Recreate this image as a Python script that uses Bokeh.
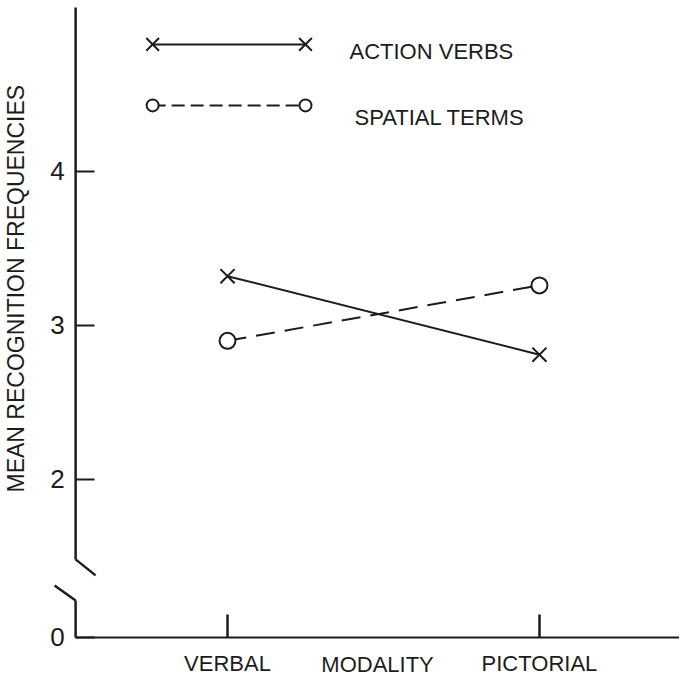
from bokeh.plotting import figure
from bokeh.models import Range1d, FixedTicker, Arrow, Title
from bokeh.core.properties import value
from bokeh.embed import file_html
from bokeh.resources import INLINE

# ---- data ----
modalities = ["VERBAL", "PICTORIAL"]
modality_pos = [1, 2]
action_verbs = [3.32, 2.81]
spatial_terms = [2.90, 3.26]
y_ticks = [2, 3, 4]
y_tick_labels = ["2", "3", "4"]
series_names = ["ACTION VERBS", "SPATIAL TERMS"]
x_title = "MODALITY"
y_title = "MEAN RECOGNITION FREQUENCIES"

# ---- layout / style constants ----
Y_BOTTOM = 0.974          # bottom of the broken axis, labelled "0"
X_AXIS = 0.513            # where the y axis stands
X_END = 2.449
INK = "#1c1c1c"
FONT = "Liberation Sans"

p = figure(width=679, height=679, output_backend="svg", toolbar_location=None,
           x_range=Range1d(0.362, X_END), y_range=Range1d(0.701, 5.110),
           min_border_left=28, min_border_right=0, min_border_top=0,
           min_border_bottom=0)
p.grid.visible = False
p.outline_line_color = None
p.background_fill_color = "white"
p.border_fill_color = "white"

# x axis, drawn at the foot of the broken y axis
xa = p.xaxis[0]
xa.fixed_location = Y_BOTTOM
xa.bounds = (X_AXIS, X_END)
xa.ticker = FixedTicker(ticks=modality_pos)
xa.major_label_overrides = {pos: lab for pos, lab in zip(modality_pos, modalities)}
xa.major_tick_in = 23
xa.major_tick_out = 0
xa.minor_tick_line_color = None
xa.axis_line_width = 2
xa.axis_line_color = INK
xa.major_tick_line_width = 2.5
xa.major_tick_line_color = INK
xa.major_label_text_font = FONT
xa.major_label_text_font_size = "22px"
xa.major_label_text_color = INK
xa.major_label_standoff = 14

# y axis (its line is drawn separately because of the break)
ya = p.yaxis[0]
ya.fixed_location = X_AXIS
ya.ticker = FixedTicker(ticks=[Y_BOTTOM] + y_ticks)
overrides = {Y_BOTTOM: "0"}
overrides.update({t: lab for t, lab in zip(y_ticks, y_tick_labels)})
ya.major_label_overrides = overrides
ya.axis_line_color = None
ya.major_tick_in = 19
ya.major_tick_out = 0
ya.minor_tick_line_color = None
ya.major_tick_line_width = 2
ya.major_tick_line_color = INK
ya.major_label_text_font = FONT
ya.major_label_text_font_size = "26px"
ya.major_label_text_color = INK
ya.major_label_standoff = 11

# y axis title
p.add_layout(Title(text=y_title, align="left", offset=187, standoff=0,
                   text_font=FONT, text_font_size="23px", text_font_style="normal",
                   text_color=INK), "left")

# x axis title
p.text(x=[1.481], y=[0.80], text=[x_title], text_font=value(FONT),
       text_font_size="22px", text_color=INK, text_align="center",
       text_baseline="middle")

# broken y axis line
axis_pieces = [
    (X_AXIS, 5.065, X_AXIS, 1.481),
    (X_AXIS, 1.481, 0.577, 1.377),
    (0.4455, 1.312, X_AXIS, 1.214),
    (X_AXIS, 1.214, X_AXIS, Y_BOTTOM),
]
for xs, ys, xe, ye in axis_pieces:
    p.add_layout(Arrow(x_start=xs, y_start=ys, x_end=xe, y_end=ye, end=None,
                       line_color=INK, line_width=2.5))

# data series
p.line(modality_pos, action_verbs, line_width=2, line_color=INK)
p.line(modality_pos, spatial_terms, line_width=2, line_color=INK, line_dash="19 10")
p.scatter(modality_pos, action_verbs, marker="x", size=20, line_width=2, line_color=INK)
p.scatter(modality_pos, spatial_terms, marker="circle", size=16, line_width=2,
          line_color=INK, fill_color="white")

# hand-drawn legend
LEG_X = [0.760, 1.25]
LEG_Y = [4.825, 4.429]
p.line(LEG_X, [LEG_Y[0]] * 2, line_width=2, line_color=INK)
p.scatter(LEG_X, [LEG_Y[0]] * 2, marker="x", size=18, line_width=2, line_color=INK)
p.line(LEG_X, [LEG_Y[1]] * 2, line_width=2, line_color=INK, line_dash="13 6")
p.scatter(LEG_X, [LEG_Y[1]] * 2, marker="circle", size=12, line_width=2,
          line_color=INK, fill_color="white")
p.text(x=[1.391, 1.407], y=[4.779, 4.351], text=series_names,
       text_font=value(FONT), text_font_size="22px", text_color=INK,
       text_align="left", text_baseline="middle")

open("out.html", "w").write(file_html(p, INLINE))
